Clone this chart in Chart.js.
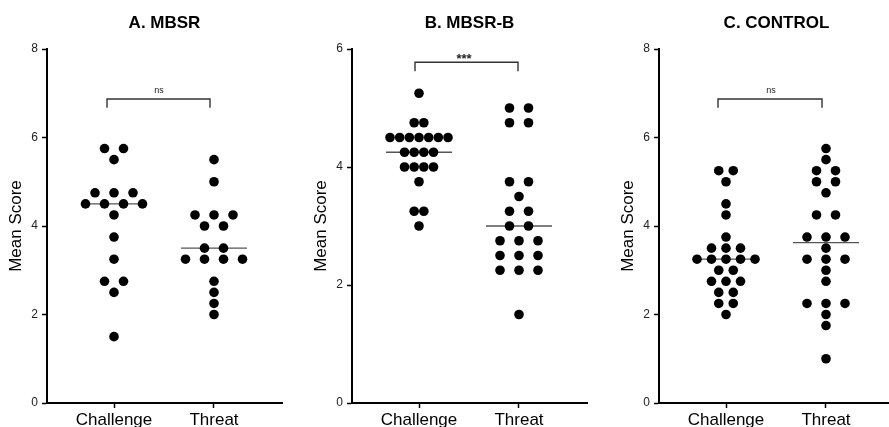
<!DOCTYPE html>
<html>
<head>
<meta charset="utf-8">
<script src="https://cdn.jsdelivr.net/npm/chart.js@4.4.1/dist/chart.umd.min.js"></script>
<style>
  html, body { margin: 0; padding: 0; background: #fff; }
  #wrap { position: relative; width: 889px; height: 427px; overflow: hidden; }
  .panel { position: absolute; top: 0; width: 305px; height: 445px; }
</style>
</head>
<body>
<div id="wrap">
  <div class="panel" style="left:0px"><canvas id="chartA"></canvas></div>
  <div class="panel" style="left:305px"><canvas id="chartB"></canvas></div>
  <div class="panel" style="left:612px"><canvas id="chartC"></canvas></div>
</div>
<script>
const categories = ['Challenge', 'Threat'];

// mean scores
const mbsrChallenge = [5.75, 5.75, 5.5, 4.75, 4.75, 4.75, 4.5, 4.5, 4.5, 4.5, 4.25, 3.75, 3.25, 2.75, 2.75, 2.5, 1.5];
const mbsrThreat = [5.5, 5, 4.25, 4.25, 4.25, 4, 4, 3.5, 3.5, 3.25, 3.25, 3.25, 3.25, 2.75, 2.5, 2.25, 2];

const mbsrBChallenge = [5.25, 4.75, 4.75, 4.5, 4.5, 4.5, 4.5, 4.5, 4.5, 4.5, 4.25, 4.25, 4.25, 4.25, 4, 4, 4, 4, 3.75, 3.25, 3.25, 3];
const mbsrBThreat = [5, 5, 4.75, 4.75, 3.75, 3.75, 3.5, 3.25, 3.25, 3, 3, 2.75, 2.75, 2.75, 2.5, 2.5, 2.5, 2.25, 2.25, 2.25, 1.5];

const controlChallenge = [5.25, 5.25, 5, 4.5, 4.25, 3.75, 3.5, 3.5, 3.5, 3.25, 3.25, 3.25, 3.25, 3.25, 3, 3, 2.75, 2.75, 2.75, 2.5, 2.5, 2.25, 2.25, 2];
const controlThreat = [5.75, 5.5, 5.25, 5.25, 5, 5, 4.75, 4.25, 4.25, 3.75, 3.75, 3.75, 3.5, 3.25, 3.25, 3.25, 3, 2.75, 2.25, 2.25, 2.25, 2, 1.75, 1];

const yTicksA = [0, 2, 4, 6, 8];
const yTicksB = [0, 2, 4, 6];
const yTicksC = [0, 2, 4, 6, 8];

Chart.defaults.font.family = "'Liberation Sans', Arial, sans-serif";
Chart.defaults.color = '#000';

// spread tied values sideways like a column scatter plot
function swarm(values, center) {
  const counts = {};
  values.forEach(v => counts[v] = (counts[v] || 0) + 1);
  const nMax = Math.max(...Object.values(counts));
  const step = nMax > 1 ? Math.min(0.19, 0.58 / (nMax - 1)) : 0;
  const seen = {};
  return values.map(v => {
    seen[v] = (seen[v] || 0) + 1;
    return { x: center + (seen[v] - 1 - (counts[v] - 1) / 2) * step, y: v };
  });
}

function median(values) {
  const s = values.slice().sort((a, b) => a - b);
  const m = Math.floor(s.length / 2);
  return s.length % 2 ? s[m] : (s[m - 1] + s[m]) / 2;
}

const sigLabel = {
  id: 'sigLabel',
  afterDatasetsDraw(chart, args, opts) {
    const { ctx, scales: { x, y } } = chart;
    ctx.save();
    ctx.font = opts.font;
    ctx.fillStyle = '#222';
    ctx.textAlign = 'center';
    ctx.textBaseline = 'alphabetic';
    ctx.fillText(opts.text, x.getPixelForValue(0.45), y.getPixelForValue(opts.y) - opts.gap);
    ctx.restore();
  }
};

function makePanel(id, title, challenge, threat, yTicks, bracket) {
  const yMax = yTicks[yTicks.length - 1];
  const drop = yMax * 0.025;
  const medLine = (vals, c) => [{ x: c - 0.33, y: median(vals) }, { x: c + 0.33, y: median(vals) }];
  const axisGrid = { drawOnChartArea: false, drawTicks: true, tickLength: 5, tickWidth: 1.5, tickColor: '#000' };

  new Chart(document.getElementById(id), {
    type: 'scatter',
    data: {
      datasets: [
        { label: categories[0], data: swarm(challenge, 0), order: 0 },
        { label: categories[1], data: swarm(threat, 1), order: 0 },
        { type: 'line', data: medLine(challenge, 0), borderColor: '#555', borderWidth: 1.3, pointRadius: 0, order: 1 },
        { type: 'line', data: medLine(threat, 1), borderColor: '#555', borderWidth: 1.3, pointRadius: 0, order: 1 },
        {
          type: 'line',
          data: [
            { x: bracket.x[0], y: bracket.y - drop }, { x: bracket.x[0], y: bracket.y },
            { x: bracket.x[1], y: bracket.y }, { x: bracket.x[1], y: bracket.y - drop }
          ],
          borderColor: '#333', borderWidth: 1.4, pointRadius: 0, order: 1
        }
      ]
    },
    options: {
      responsive: true,
      maintainAspectRatio: false,
      animation: false,
      events: [],
      layout: { padding: { right: 23 } },
      elements: { point: { radius: 4.8, backgroundColor: '#000', borderWidth: 0 } },
      plugins: {
        legend: { display: false },
        tooltip: { enabled: false },
        title: {
          display: true, text: title, fullSize: false, color: '#000',
          font: { size: 17, weight: 'bold' },
          padding: { top: 13, bottom: 15.6 }
        },
        sigLabel: bracket.label
      },
      scales: {
        x: {
          type: 'linear', min: -0.67, max: 1.68,
          afterBuildTicks: s => { s.ticks = categories.map((c, i) => ({ value: i })); },
          afterFit: s => { s.height = 42; },
          ticks: { callback: v => categories[v], font: { size: 17 }, color: '#000', padding: 2, autoSkip: false, maxRotation: 0 },
          grid: axisGrid,
          border: { color: '#000', width: 2 }
        },
        y: {
          min: 0, max: yMax,
          afterBuildTicks: s => { s.ticks = yTicks.map(v => ({ value: v })); },
          afterFit: s => { s.width = 47; },
          ticks: { font: { size: 12 }, color: '#222', padding: 4 },
          title: { display: true, text: 'Mean Score', font: { size: 17 }, color: '#000', padding: { top: 6, bottom: 0 } },
          grid: axisGrid,
          border: { color: '#000', width: 2 }
        }
      }
    },
    plugins: [sigLabel]
  });
}

makePanel('chartA', 'A. MBSR', mbsrChallenge, mbsrThreat, yTicksA,
  { x: [-0.07, 0.96], y: 6.87, label: { text: 'ns', font: '9px "Liberation Sans", Arial', y: 6.87, gap: 6 } });
makePanel('chartB', 'B. MBSR-B', mbsrBChallenge, mbsrBThreat, yTicksB,
  { x: [-0.04, 0.99], y: 5.775, label: { text: '***', font: 'bold 13px "Liberation Sans", Arial', y: 5.775, gap: -1 } });
makePanel('chartC', 'C. CONTROL', controlChallenge, controlThreat, yTicksC,
  { x: [-0.08, 0.96], y: 6.87, label: { text: 'ns', font: '9px "Liberation Sans", Arial', y: 6.87, gap: 6 } });
</script>
</body>
</html>
